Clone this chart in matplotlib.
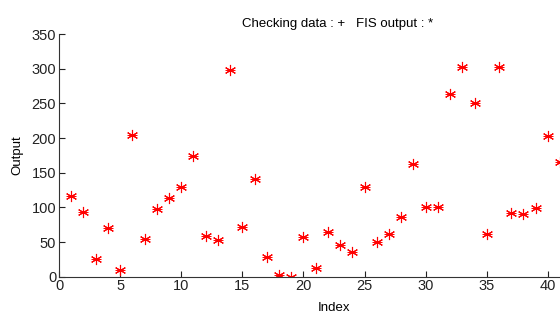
import numpy as np
import matplotlib
matplotlib.use("Agg")
import matplotlib.pyplot as plt

# Index of each checking sample and the FIS output
index = np.arange(1, 42)
output = [117, 94, 25, 70, 9, 205, 55, 97, 113, 130,
          174, 59, 53, 298, 72, 141, 28, 2, 0, 57,
          12, 64, 45, 35, 129, 50, 62, 86, 163, 101,
          100, 263, 302, 250, 61, 302, 92, 90, 99, 203,
          165]
xticks = [0, 5, 10, 15, 20, 25, 30, 35, 40]
yticks = [0, 50, 100, 150, 200, 250, 300, 350]

plt.rcParams['font.family'] = ['Liberation Sans', 'DejaVu Sans']

fig = plt.figure(figsize=(5.6, 3.15), dpi=100)
# the original axes runs past the right edge of the picture (up to x = 45)
ax = fig.add_axes([59 / 560, 38.3 / 315, 550 / 560, 242.7 / 315])

# checking data (+) and FIS output (*) fall on top of each other
ax.plot(index, output, linestyle='none', marker='+', color='red', markersize=7, markeredgewidth=0.7)
ax.plot(index, output, linestyle='none', marker=(6, 2, 0), color='red', markersize=8, markeredgewidth=0.8)

ax.set_xlim(0, 45)
ax.set_ylim(0, 350)
ax.set_xticks(xticks)
ax.set_yticks(yticks)
ax.tick_params(direction='in', length=4, labelsize=10.5, pad=2, colors='#222222')
for side in ['top', 'right']:
    ax.spines[side].set_visible(False)
for side in ['left', 'bottom']:
    ax.spines[side].set_color('#333333')

ax.set_xlabel("Index", fontsize=9.5, labelpad=6)
ax.set_ylabel("Output", fontsize=9.5, labelpad=6)
fig.text(338 / 560, 0.925, "Checking data : +   FIS output : *", fontsize=9.5, ha='center', va='center')

fig.savefig("out.png", dpi=100)
